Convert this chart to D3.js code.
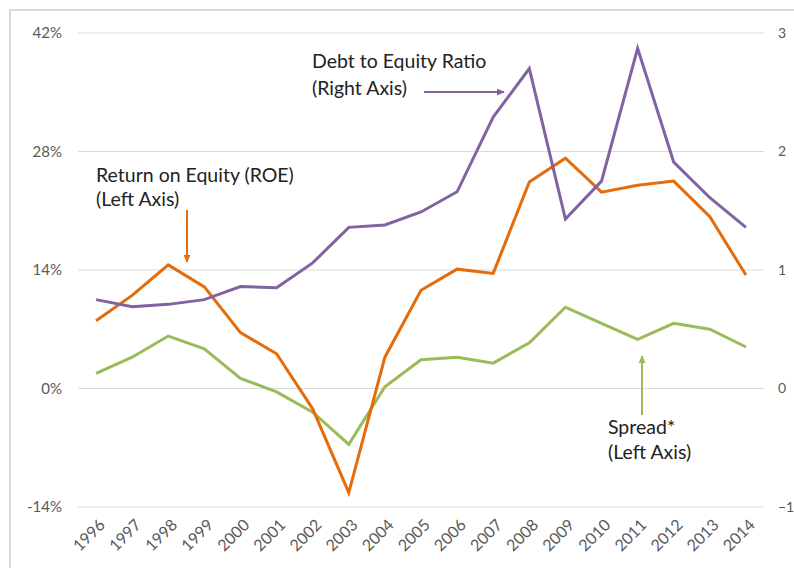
<!DOCTYPE html>
<html>
<head>
<meta charset="utf-8">
<script src="https://cdn.jsdelivr.net/npm/d3@7"></script>
<style>
  html, body { margin: 0; padding: 0; background: #fff; }
  svg { display: block; }
</style>
</head>
<body>
<script>
const years = ["1996","1997","1998","1999","2000","2001","2002","2003","2004","2005","2006","2007","2008","2009","2010","2011","2012","2013","2014"];
const roe = [8.0, 11.0, 14.6, 12.0, 6.6, 4.1, -2.4, -12.3, 3.7, 11.6, 14.1, 13.6, 24.4, 27.2, 23.2, 24.0, 24.5, 20.3, 13.4];
const debtToEquity = [0.75, 0.69, 0.71, 0.75, 0.86, 0.85, 1.06, 1.36, 1.38, 1.49, 1.66, 2.29, 2.70, 1.43, 1.75, 2.87, 1.91, 1.61, 1.36];
const spread = [1.8, 3.7, 6.2, 4.7, 1.2, -0.4, -2.8, -6.6, 0.2, 3.4, 3.7, 3.0, 5.4, 9.6, 7.7, 5.8, 7.7, 7.0, 4.9];
const leftTicks = [-14, 0, 14, 28, 42];
const rightTicks = [-1, 0, 1, 2, 3];

const W = 794, H = 568;
const svg = d3.select("body").append("svg").attr("width", W).attr("height", H);
const font = "Lato, 'Open Sans', sans-serif";

// border
svg.append("path").attr("d", `M10,${H} L10,10 L${W},10`).attr("fill", "none")
  .attr("stroke", "#d9d9d9").attr("stroke-width", 2);

const x = d3.scaleBand().domain(years).range([78, 764]).padding(0);
const xc = d => x(d) + x.bandwidth() / 2;
const yL = d3.scaleLinear().domain([-14, 42]).range([507, 33]);
const yR = d3.scaleLinear().domain([-1, 3]).range([507, 33]);

// gridlines
svg.append("g").selectAll("line").data(leftTicks).join("line")
  .attr("x1", 78).attr("x2", 764)
  .attr("y1", d => yL(d)).attr("y2", d => yL(d))
  .attr("stroke", "#d9d9d9").attr("stroke-width", 1);

// left axis
const leftAxis = d3.axisLeft(yL).tickValues(leftTicks).tickFormat(d => d + "%").tickSize(0).tickPadding(16);
const gl = svg.append("g").attr("transform", "translate(78,0)").call(leftAxis);
gl.select(".domain").remove();
gl.selectAll("text").attr("font-family", font).attr("font-size", 15).attr("fill", "#595959");

// right axis
const rightAxis = d3.axisRight(yR).tickValues(rightTicks).tickFormat(d3.format("d")).tickSize(0).tickPadding(14);
const gr = svg.append("g").attr("transform", "translate(764,0)").call(rightAxis);
gr.select(".domain").remove();
gr.selectAll("text").attr("font-family", font).attr("font-size", 14).attr("fill", "#595959");

// x axis
const xAxis = d3.axisBottom(x).tickSize(0).tickPadding(0);
const gx = svg.append("g").attr("transform", "translate(0,507)").call(xAxis);
gx.select(".domain").remove();
gx.selectAll("text")
  .attr("font-family", font).attr("font-size", 16).attr("fill", "#595959")
  .attr("text-anchor", "end").attr("dy", 0)
  .attr("transform", "translate(10,19) rotate(-45)");

// lines
const series = [
  { vals: spread, y: yL, color: "#9BBB59" },
  { vals: roe, y: yL, color: "#E46C0A" },
  { vals: debtToEquity, y: yR, color: "#8064A2" }
];
series.forEach(s => {
  const line = d3.line().x((d, i) => xc(years[i])).y(d => s.y(d));
  svg.append("path").datum(s.vals).attr("d", line)
    .attr("fill", "none").attr("stroke", s.color).attr("stroke-width", 3)
    .attr("stroke-linejoin", "miter");
});

// markers
const defs = svg.append("defs");
function marker(id, color) {
  defs.append("marker").attr("id", id).attr("viewBox", "0 0 10 10")
    .attr("refX", 9).attr("refY", 5).attr("markerWidth", 8).attr("markerHeight", 7)
    .attr("markerUnits", "userSpaceOnUse").attr("orient", "auto")
    .attr("preserveAspectRatio", "none")
    .append("path").attr("d", "M0,0 L10,5 L0,10 Z").attr("fill", color);
}
marker("arO", "#E46C0A");
marker("arP", "#8064A2");
marker("arG", "#9BBB59");

// annotations
const ann = svg.append("g").attr("font-family", font).attr("font-size", 19.5).attr("fill", "#222");
function label(lines, x0, y0, lh) {
  lines.forEach((t, i) => ann.append("text").attr("x", x0).attr("y", y0 + i * lh).text(t));
}
label(["Return on Equity (ROE)", "(Left Axis)"], 96, 182, 24);
label(["Debt to Equity Ratio", "(Right Axis)"], 312, 68, 27);
label(["Spread*", "(Left Axis)"], 608, 434, 25);

svg.append("line").attr("x1", 187).attr("y1", 210).attr("x2", 187).attr("y2", 262)
  .attr("stroke", "#E46C0A").attr("stroke-width", 2).attr("marker-end", "url(#arO)");
svg.append("line").attr("x1", 424).attr("y1", 92).attr("x2", 504).attr("y2", 92)
  .attr("stroke", "#8064A2").attr("stroke-width", 2).attr("marker-end", "url(#arP)");
svg.append("line").attr("x1", 642).attr("y1", 415).attr("x2", 642).attr("y2", 356)
  .attr("stroke", "#9BBB59").attr("stroke-width", 2).attr("marker-end", "url(#arG)");
</script>
</body>
</html>
